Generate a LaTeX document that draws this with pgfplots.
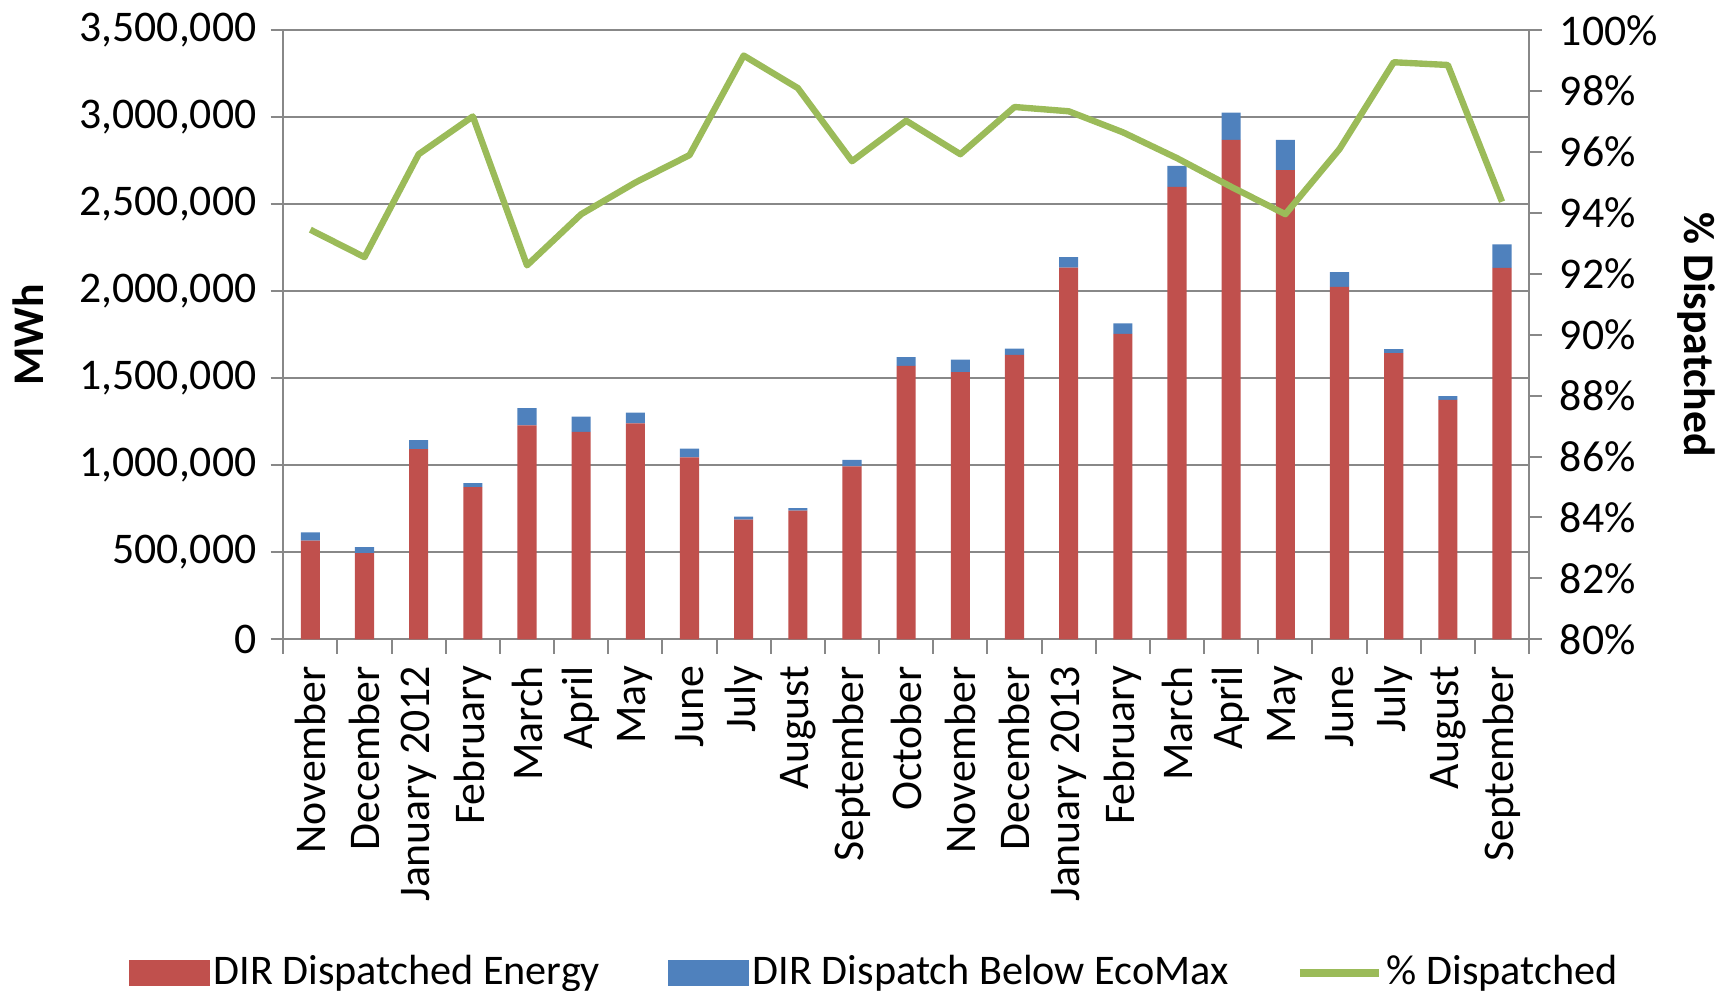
\documentclass[border=0pt]{standalone}
\usepackage{fontspec}
\setmainfont{Carlito}
\usepackage{pgfplots}
\pgfplotsset{compat=1.18}
\definecolor{cred}{HTML}{C0504D}
\definecolor{cblue}{HTML}{4F81BD}
\definecolor{cgreen}{HTML}{9BBB59}
\definecolor{cgrid}{HTML}{888888}
\newcommand{\fs}{\fontsize{11}{13}\selectfont}
\begin{document}
\begin{tikzpicture}
\begin{axis}[
  scale only axis, width=313pt, height=153pt,
  xmin=-0.5, xmax=22.5, ymin=0, ymax=3500000,
  ybar stacked, bar width=4.8pt,
  axis x line*=bottom, axis y line*=left,
  axis line style={cgrid, line width=0.5pt},
  xtick={0,...,22},
  xticklabels={November,December,January 2012,February,March,April,May,June,July,August,September,October,November,December,January 2013,February,March,April,May,June,July,August,September},
  xticklabel style={rotate=90, anchor=east, font=\fs},
  major x tick style={draw=none},
  minor xtick={-0.5,0.5,...,22.5},
  minor x tick style={cgrid, line width=0.5pt},
  minor tick length=3.6pt,
  tick align=outside,
  ytick={0,500000,1000000,1500000,2000000,2500000,3000000,3500000},
  major y tick style={cgrid, line width=0.5pt},
  major tick length=3.2pt,
  scaled y ticks=false,
  yticklabel style={/pgf/number format/fixed, /pgf/number format/1000 sep={,}, /pgf/number format/assume math mode=true, font=\fs},
  ymajorgrids, grid style={cgrid, line width=0.55pt},
  ylabel={\textbf{MWh}}, ylabel style={font=\fs, at={(ticklabel cs:0.5)}, anchor=south, yshift=2pt},
]
\addplot[fill=cred, draw=none] coordinates {(0,567000)(1,495000)(2,1093000)(3,874000)(4,1229000)(5,1192000)(6,1241000)(7,1045000)(8,688000)(9,739000)(10,994000)(11,1571000)(12,1535000)(13,1634000)(14,2136000)(15,1755000)(16,2600000)(17,2870000)(18,2696000)(19,2025000)(20,1644000)(21,1376000)(22,2134000)};
\addplot[fill=cblue, draw=none] coordinates {(0,48000)(1,34000)(2,51000)(3,24000)(4,99000)(5,87000)(6,62000)(7,51000)(8,17000)(9,14000)(10,37000)(11,51000)(12,72000)(13,36000)(14,60000)(15,60000)(16,120000)(17,157000)(18,174000)(19,85000)(20,24000)(21,22000)(22,135000)};
\end{axis}
\begin{axis}[
  scale only axis, width=313pt, height=153pt,
  xmin=-0.5, xmax=22.5, ymin=80, ymax=100,
  axis x line=none, axis y line*=right,
  axis line style={cgrid, line width=0.5pt},
  ytick={80,82,...,100},
  yticklabel={\pgfmathprintnumber{\tick}\%},
  yticklabel style={/pgf/number format/assume math mode=true, font=\fs, xshift=1pt},
  major y tick style={cgrid, line width=0.5pt},
  major tick length=3.2pt, tick align=outside,
  ylabel={\textbf{\% Dispatched}}, ylabel style={font=\fs, at={(ticklabel cs:0.5)}, rotate=180, anchor=south, yshift=-2pt},
  legend columns=3,
  legend style={draw=none, fill=none, at={(0.475,-0.548)}, anchor=center, font=\fontsize{10.6}{12.5}\selectfont,
    inner sep=0pt,
    nodes={inner xsep=1pt, inner ysep=0pt},
    /tikz/every even column/.append style={column sep=16pt}},
]
\addlegendimage{legend image code/.code={\fill[cred] (0pt,-3pt) rectangle (20pt,3pt);}}
\addlegendentry{DIR Dispatched Energy}
\addlegendimage{legend image code/.code={\fill[cblue] (0pt,-3pt) rectangle (20pt,3pt);}}
\addlegendentry{DIR Dispatch Below EcoMax}
\addplot[cgreen, line width=1.6pt, line join=round, legend image code/.code={\draw[cgreen, line width=1.8pt] (0pt,0pt) -- (20pt,0pt);}] coordinates {(0,93.45)(1,92.55)(2,95.93)(3,97.17)(4,92.28)(5,93.96)(6,95.0)(7,95.9)(8,99.17)(9,98.1)(10,95.7)(11,97.03)(12,95.93)(13,97.48)(14,97.34)(15,96.65)(16,95.8)(17,94.86)(18,93.96)(19,96.1)(20,98.95)(21,98.86)(22,94.37)};
\addlegendentry{\% Dispatched}
\end{axis}
\end{tikzpicture}
\end{document}
